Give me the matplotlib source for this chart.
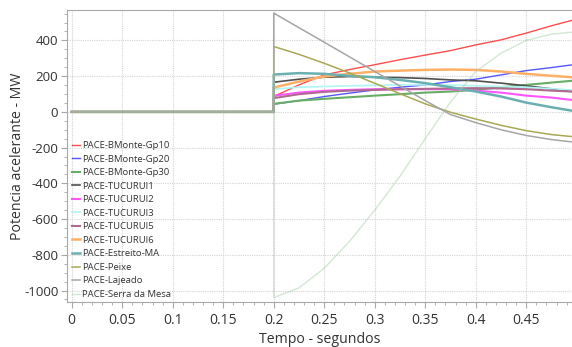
import matplotlib
matplotlib.use("Agg")
import matplotlib.pyplot as plt
from matplotlib.ticker import FixedLocator, MultipleLocator

plt.rcParams['font.family'] = ['Open Sans', 'DejaVu Sans']

# Sample instants after the disturbance (s)
t_after = [0.2, 0.225, 0.25, 0.275, 0.3, 0.325, 0.35, 0.375, 0.4, 0.425, 0.45, 0.475, 0.495]

# Accelerating power per generator group (MW)
gp10 = [86, 151, 207, 237, 264, 292, 318, 343, 375, 403, 441, 482, 512]
gp20 = [43, 63, 86, 105, 123, 138, 151, 170, 183, 207, 231, 248, 263]
gp30 = [45, 63, 73, 82, 91, 99, 108, 114, 123, 138, 151, 164, 174]
tucurui1 = [166, 183, 194, 198, 194, 192, 187, 179, 174, 161, 146, 129, 114]
tucurui2 = [90, 108, 118, 123, 127, 127, 127, 127, 119, 108, 91, 80, 67]
tucurui3 = [127, 138, 142, 146, 149, 151, 151, 150, 146, 142, 138, 130, 122]
tucurui5 = [77, 99, 112, 119, 123, 127, 129, 131, 133, 131, 127, 119, 114]
tucurui6 = [136, 170, 198, 213, 226, 231, 235, 237, 235, 226, 213, 202, 194]
estreito = [209, 217, 213, 202, 194, 179, 161, 138, 114, 86, 52, 26, 7]
peixe = [366, 322, 272, 218, 160, 102, 45, -2, -40, -75, -105, -127, -138]
lajeado = [553, 471, 390, 308, 226, 145, 63, -15, -60, -100, -132, -155, -168]
serra = [-1040, -985, -875, -725, -550, -360, -150, 55, 226, 328, 400, 435, 446]

series = [
    ("PACE-BMonte-Gp10", gp10, "#ff4d4d", 1.0, 1.0),
    ("PACE-BMonte-Gp20", gp20, "#5555ff", 1.0, 1.0),
    ("PACE-BMonte-Gp30", gp30, "#66ad66", 1.0, 1.5),
    ("PACE-TUCURUI1", tucurui1, "#505050", 1.0, 1.2),
    ("PACE-TUCURUI2", tucurui2, "#ff55ff", 1.0, 1.5),
    ("PACE-TUCURUI3", tucurui3, "#b0f4f4", 1.0, 1.2),
    ("PACE-TUCURUI5", tucurui5, "#b06a90", 1.0, 1.5),
    ("PACE-TUCURUI6", tucurui6, "#ffb066", 1.0, 1.8),
    ("PACE-Estreito-MA", estreito, "#6ab0b0", 1.0, 1.8),
    ("PACE-Peixe", peixe, "#a8a855", 1.0, 1.1),
    ("PACE-Lajeado", lajeado, "#a6a6a6", 1.0, 1.1),
    ("PACE-Serra da Mesa", serra, "#a0c8a0", 0.45, 1.0),
]

x_ticks = [0, 0.05, 0.1, 0.15, 0.2, 0.25, 0.3, 0.35, 0.4, 0.45]
x_labels = ["0", "0.05", "0.1", "0.15", "0.2", "0.25", "0.3", "0.35", "0.4", "0.45"]
y_ticks = [400, 200, 0, -200, -400, -600, -800, -1000]
y_labels = ["400", "200", "0", "-200", "-400", "-600", "-800", "-1000"]

fig = plt.figure(figsize=(5.72, 3.47), dpi=100)
ax = fig.add_axes([0.1166, 0.1297, 0.8834, 0.8403])

for name, vals, color, alpha, lw in series:
    xs = [0.0, t_after[0]] + t_after
    ys = [0.0, 0.0] + vals
    ax.plot(xs, ys, color=color, alpha=alpha, lw=lw, label=name)

ax.set_xlim(-0.005, 0.4953)
ax.set_ylim(-1064, 568)

ax.xaxis.set_major_locator(FixedLocator(x_ticks))
ax.set_xticklabels(x_labels)
ax.xaxis.set_minor_locator(MultipleLocator(0.01))
ax.yaxis.set_major_locator(FixedLocator(y_ticks))
ax.set_yticklabels(y_labels)
ax.yaxis.set_minor_locator(MultipleLocator(50))

ax.grid(True, which='major', color='#d4d4d4', linestyle=(0, (1, 1)), linewidth=0.8)
ax.set_axisbelow(True)

for side in ('left', 'bottom', 'top'):
    ax.spines[side].set_color('#a8a8a8')
ax.spines['right'].set_visible(False)

ax.tick_params(axis='both', which='major', colors='#a8a8a8', labelcolor='#333333',
               labelsize=10, length=4, width=0.8)
ax.tick_params(axis='y', which='major', labelsize=9.6)
ax.tick_params(axis='both', which='minor', colors='#a8a8a8', length=2, width=0.6)
ax.tick_params(axis='x', pad=4)
ax.tick_params(axis='y', pad=2)

ax.set_xlabel("Tempo - segundos", fontsize=10.2, color='#333333', labelpad=3)
ax.set_ylabel("Potencia acelerante - MW", fontsize=10.2, color='#333333')
ax.yaxis.set_label_coords(-0.082, 0.5)

leg = ax.legend(loc='upper left', bbox_to_anchor=(0.0105, 0.552), frameon=False,
                fontsize=6.8, handlelength=0.8, handletextpad=0.25, labelspacing=0.48,
                borderpad=0, borderaxespad=0)
for txt in leg.get_texts():
    txt.set_color('#333333')
for h, (_, _, _, alpha, _) in zip(leg.get_lines(), series):
    h.set_alpha(alpha)

fig.savefig("out.png", dpi=100)
